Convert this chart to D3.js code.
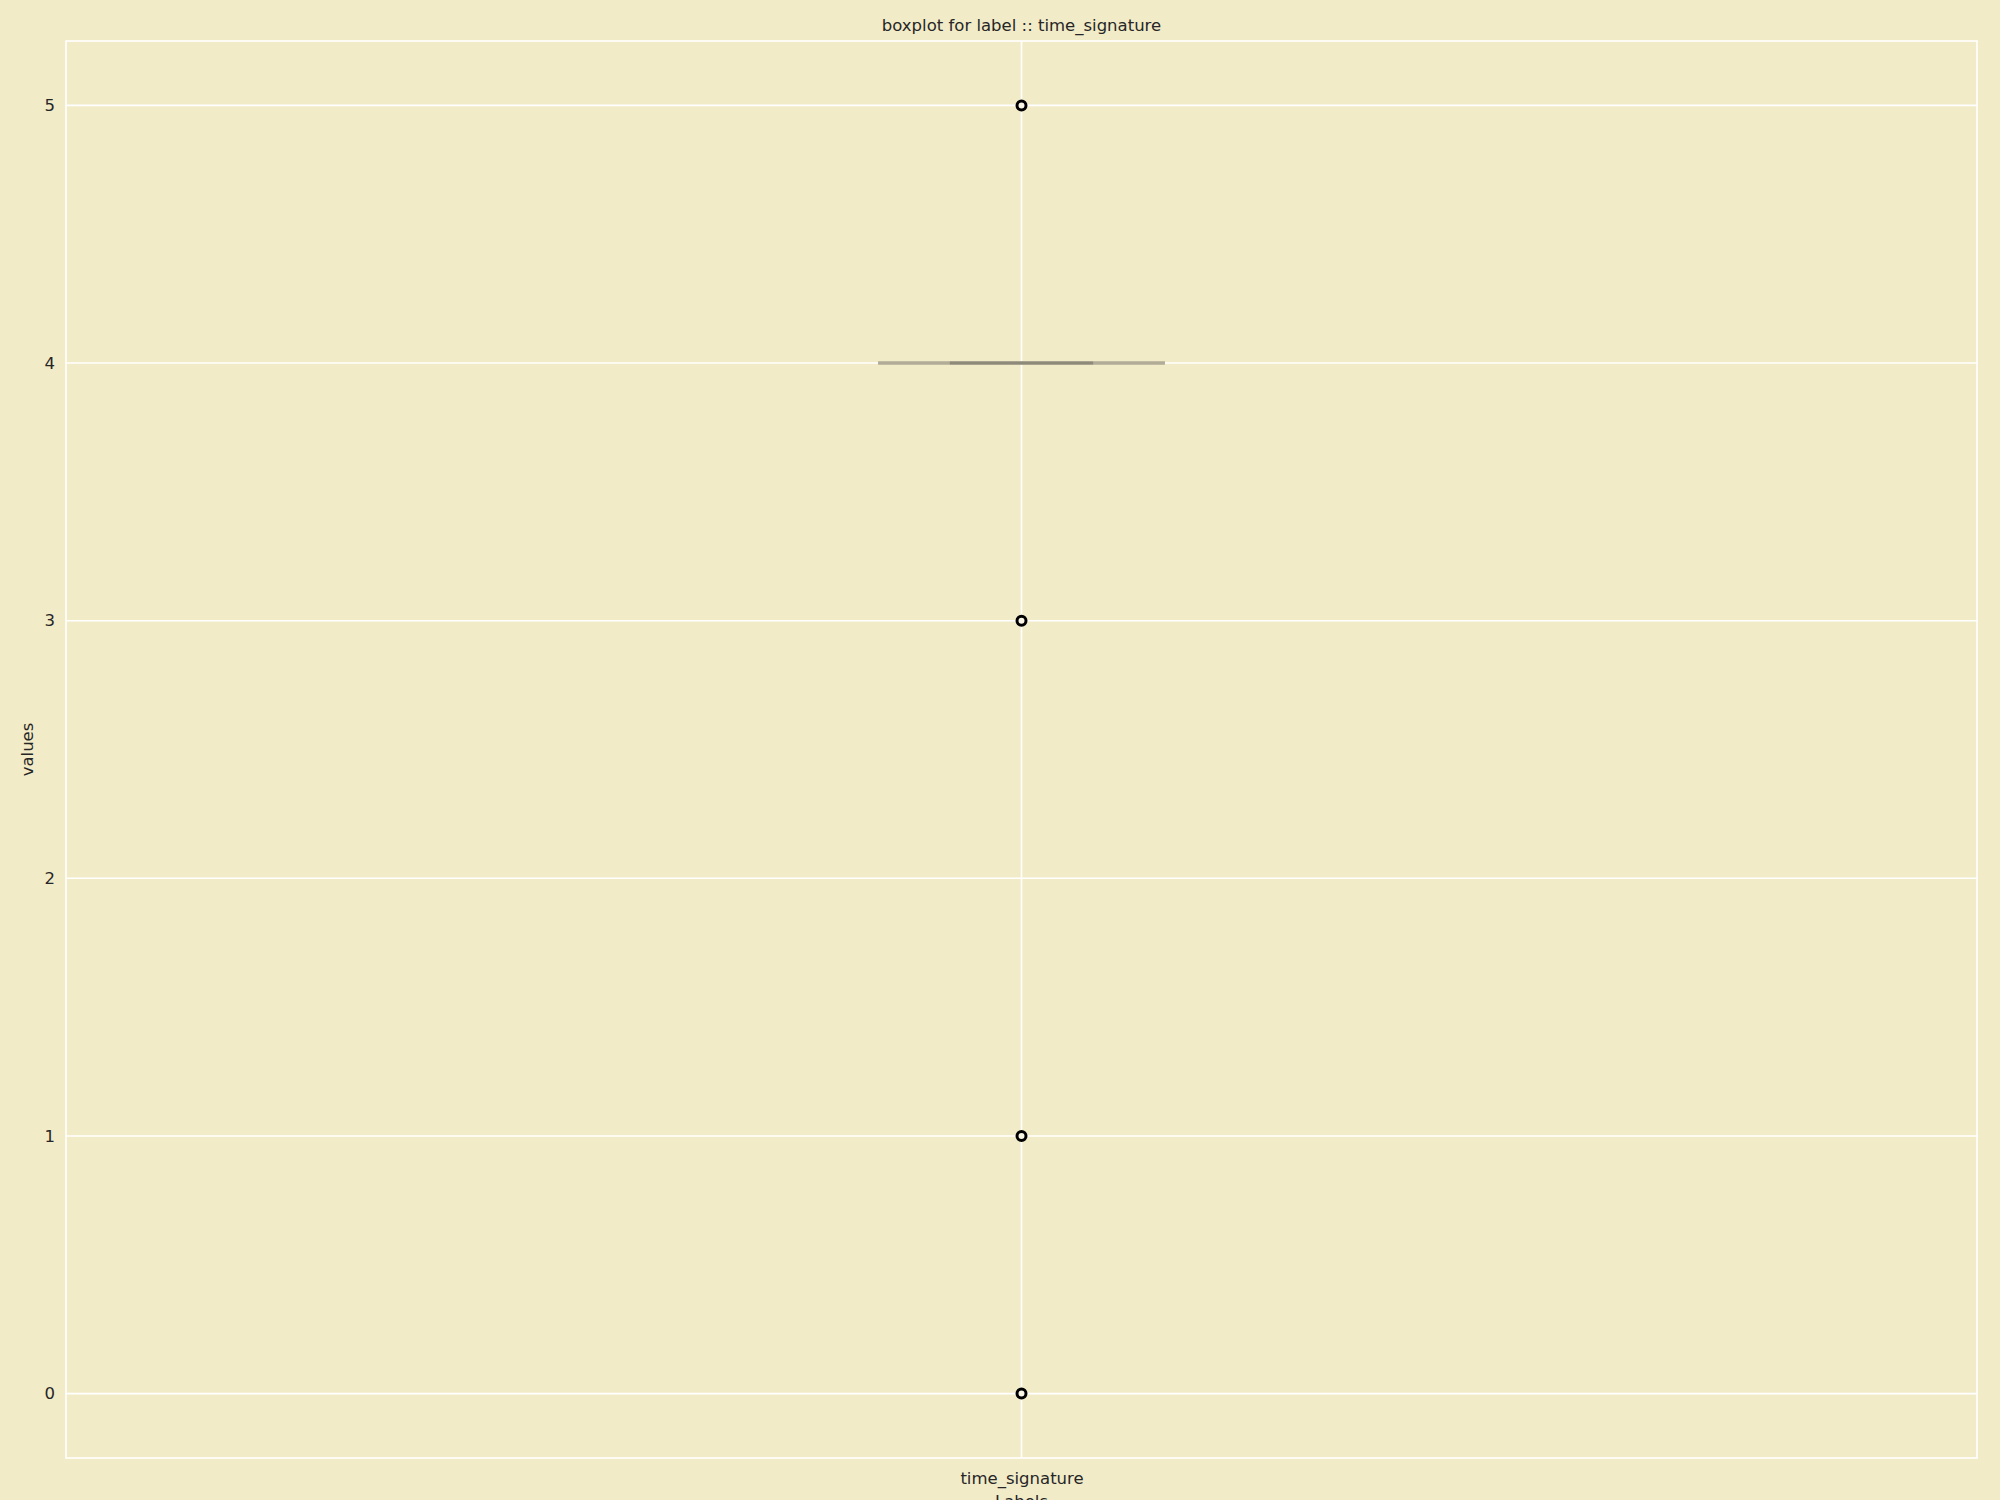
<!DOCTYPE html>
<html><head><meta charset="utf-8">
<script src="https://cdn.jsdelivr.net/npm/d3@7"></script>
<style>body{margin:0;background:#F2EBC8;}svg{display:block;}text{font-family:"DejaVu Sans",sans-serif;fill:#262626;}</style>
</head><body>
<svg id="chart" width="2000" height="1500"></svg>
<script>
const categories = ["time_signature"];
const yTicks = [0, 1, 2, 3, 4, 5];
const q1Values = [4];
const medianValues = [4];
const q3Values = [4];
const whiskerLow = [4];
const whiskerHigh = [4];
const outlierValues = [[0, 1, 3, 5]];

const W = 2000, H = 1500;
const m = {l: 66, r: 1977, t: 41, b: 1458};
const FS = 16.5;
const svg = d3.select("#chart");
svg.append("rect").attr("width", W).attr("height", H).attr("fill", "#F2EBC8");

const y = d3.scaleLinear().domain([-0.25, 5.25]).range([m.b, m.t]);
const x = d3.scaleLinear().domain([-0.5, categories.length - 0.5]).range([m.l, m.r]);

// grid
const g = svg.append("g");
g.selectAll("line.hg").data(yTicks).enter().append("line")
  .attr("x1", m.l).attr("x2", m.r).attr("y1", d => y(d)).attr("y2", d => y(d))
  .attr("stroke", "#fff").attr("stroke-width", 1.6);
g.selectAll("line.vg").data(categories).enter().append("line")
  .attr("x1", (d, i) => x(i)).attr("x2", (d, i) => x(i)).attr("y1", m.t).attr("y2", m.b)
  .attr("stroke", "#fff").attr("stroke-width", 1.6);
// spines
svg.append("rect").attr("x", m.l).attr("y", m.t).attr("width", m.r - m.l).attr("height", m.b - m.t)
  .attr("fill", "none").attr("stroke", "#fff").attr("stroke-width", 1.6);

// y tick labels
const yAxis = d3.axisLeft(y).tickValues(yTicks).tickSize(0).tickPadding(11).tickFormat(d3.format("d"));
const ya = svg.append("g").attr("transform", `translate(${m.l},0)`).call(yAxis);
ya.select(".domain").remove();
ya.selectAll("text").attr("font-size", FS).attr("font-family", "DejaVu Sans").attr("fill", "#262626");

// x tick labels
const xAxis = d3.axisBottom(x).tickValues(categories.map((d, i) => i)).tickSize(0).tickPadding(14)
  .tickFormat(i => categories[i]);
const xa = svg.append("g").attr("transform", `translate(0,${m.b})`).call(xAxis);
xa.select(".domain").remove();
xa.selectAll("text").attr("font-size", FS).attr("font-family", "DejaVu Sans").attr("fill", "#262626");

// boxes
const boxHalf = 0.0375, capHalf = 0.075;
const capCol = "#B1AB97", boxCol = "#8E8A7A";
categories.forEach((c, i) => {
  const bg = svg.append("g");
  // whiskers
  bg.append("line").attr("x1", x(i)).attr("x2", x(i)).attr("y1", y(q1Values[i])).attr("y2", y(whiskerLow[i]))
    .attr("stroke", capCol).attr("stroke-width", 3);
  bg.append("line").attr("x1", x(i)).attr("x2", x(i)).attr("y1", y(q3Values[i])).attr("y2", y(whiskerHigh[i]))
    .attr("stroke", capCol).attr("stroke-width", 3);
  // caps
  [whiskerLow[i], whiskerHigh[i]].forEach(v => {
    bg.append("line").attr("x1", x(i - capHalf)).attr("x2", x(i + capHalf)).attr("y1", y(v)).attr("y2", y(v))
      .attr("stroke", capCol).attr("stroke-width", 3);
  });
  // box
  bg.append("rect").attr("x", x(i - boxHalf)).attr("width", x(i + boxHalf) - x(i - boxHalf))
    .attr("y", y(q3Values[i])).attr("height", Math.max(0, y(q1Values[i]) - y(q3Values[i])))
    .attr("fill", "none").attr("stroke", boxCol).attr("stroke-width", 3);
  // median
  bg.append("line").attr("x1", x(i - boxHalf)).attr("x2", x(i + boxHalf)).attr("y1", y(medianValues[i])).attr("y2", y(medianValues[i]))
    .attr("stroke", boxCol).attr("stroke-width", 3);
  // outliers
  bg.selectAll("circle").data(outlierValues[i]).enter().append("circle")
    .attr("cx", x(i)).attr("cy", d => y(d)).attr("r", 4.5)
    .attr("fill", "#FAF6E6").attr("stroke", "#000").attr("stroke-width", 3);
});

// title and labels
svg.append("text").attr("x", (m.l + m.r) / 2).attr("y", 31).attr("text-anchor", "middle")
  .attr("font-size", FS).text("boxplot for label :: time_signature");
svg.append("text").attr("x", (m.l + m.r) / 2).attr("y", 1507).attr("text-anchor", "middle")
  .attr("font-size", FS).text("Labels");
svg.append("text").attr("transform", `translate(33,${(m.t + m.b) / 2}) rotate(-90)`).attr("text-anchor", "middle")
  .attr("font-size", FS).text("values");
</script>
</body></html>
